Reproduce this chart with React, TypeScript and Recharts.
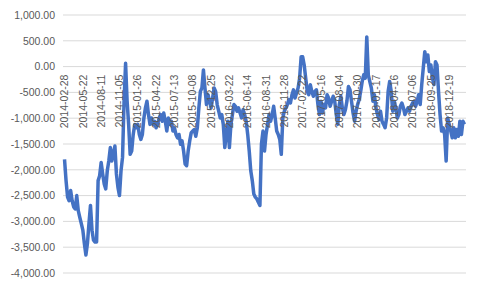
import React from 'react';
import { LineChart, Line, XAxis, YAxis, CartesianGrid } from 'recharts';

const values: number[] = [
  // 2014-02-28 ..
  -1800, -2210, -2530, -2600, -2400, -2600, -2720, -2760, -2500, -2790,
  -2920, -3045, -3170, -3430, -3650, -3430, -3045, -2690, -3170, -3365,
  -3400, -3400, -2210, -2115, -1860, -2080, -2275, -2370, -2020, -1830,
  -1570, -1830, -1670, -1540, -2080, -2340, -2500, -2020, -1760, -670,
  65, -670, -1120, -1700, -1635, -1315, -1120, -1185, -1120, -1315,
  -1410, -1315, -995, -800, -670, -930, -1120, -995, -1120, -1060,
  -1185, -1120, -995, -930, -1060, -900, -1060, -1250, -995, -1120,
  -1060, -1250, -1185, -1315, -1380, -1315, -1505, -1440, -1635, -1890,
  -1920, -1635, -1440, -1280, -1250, -1220, -1350, -1185, -800, -480,
  -415, -65, -415, -735, -545, -670, -800, -610, -415, -480,
  -735, -865, -995, -930, -1120, -1570, -1315, -1060, -1570, -1120,
  -930, -735, -770, -865, -800, -900, -995, -835, -930, -1060,
  -1315, -1635, -2020, -2210, -2470, -2530, -2565, -2630, -2690, -1500,
  -1250, -1635, -1315, -1120, -930, -1060, -930, -770, -995, -1250,
  -1315, -1410, -1700, -995, -865, -800, -735, -640, -705, -545,
  -450, -610, -510, -415, -225, 190, 190, 30, -225, -480,
  -545, -350, -480, -575, -480, -450, -735, -930, -670, -900,
  -735, -800, -545, -610, -770, -670, -575, -670, -930, -1120,
  -735, -575, -800, -930, -835, -670, -385, -450, -670, -900,
  -1060, -865, -735, -640, -480, -290, -160, -225, 575, -160,
  -290, -415, -670, -545, -800, -930, -1025, -865, -1060, -1120,
  -1185, -995, -480, -290, -480, -865, -670, -800, -995, -930,
  -770, -705, -800, -930, -865, -800, -865, -770, -705, -670,
  -770, -670, -545, -735, -350, -30, 290, 95, 225, -95,
  30, -225, -350, 95, 30, -480, -930, -1250, -1185, -1315,
  -1830, -995, -1120, -1250, -1380, -1185, -1380, -1220, -1350, -1060,
  -1315, -1060, -1120,
];

const tickIndex: number[] = [0, 12, 24, 36, 48, 60, 72, 84, 96, 108, 120, 132, 144, 156, 168, 180, 192, 204, 216, 228, 240, 252];
const tickLabels: string[] = [
  '2014-02-28', '2014-05-22', '2014-08-11', '2014-11-05', '2015-01-26', '2015-04-22',
  '2015-07-13', '2015-10-08', '2015-12-25', '2016-03-22', '2016-06-14', '2016-08-31',
  '2016-11-28', '2017-02-22', '2017-05-16', '2017-08-04', '2017-10-30', '2018-01-17',
  '2018-04-16', '2018-07-06', '2018-09-25', '2018-12-19',
];
const yTicks: number[] = [-4000, -3500, -3000, -2500, -2000, -1500, -1000, -500, 0, 500, 1000];

const data = values.map((v, i) => ({ i, v }));

const W = 480;
const H = 288;
const M = { top: 15, right: 14, bottom: 14, left: 0 };
const Y_MIN = -4000;
const Y_MAX = 1000;
const X_H = 1;
const plotH = H - M.top - M.bottom - X_H;
const zeroY = M.top + (plotH * (Y_MAX - 0)) / (Y_MAX - Y_MIN);

const FONT = '"Liberation Sans", Arial, sans-serif';
const TEXT = '#595959';

const fmt = (v: number) =>
  v.toLocaleString('en-US', { minimumFractionDigits: 2, maximumFractionDigits: 2 });

const renderXTick = (props: any) => {
  const { x, payload } = props;
  const idx = tickIndex.indexOf(Number(payload.value));
  const label = idx >= 0 ? tickLabels[idx] : String(payload.value);
  return (
    <g transform={`translate(${x},${zeroY + 8}) rotate(-90)`}>
      <text x={0} y={0} dy="0.35em" textAnchor="end" fill={TEXT} fontSize={10.5} fontFamily={FONT}>
        {label}
      </text>
    </g>
  );
};

export default function App() {
  return (
    <div style={{ position: 'absolute', left: 0, top: 0, width: W, height: H, background: '#fff' }}>
      <LineChart width={W} height={H} data={data} margin={M}>
        <CartesianGrid vertical={false} stroke="#D9D9D9" strokeWidth={1} />
        <XAxis
          dataKey="i"
          type="number"
          domain={[-1, 263]}
          ticks={tickIndex}
          interval={0}
          tick={renderXTick}
          axisLine={false}
          tickLine={false}
          height={X_H}
        />
        <YAxis
          type="number"
          domain={[Y_MIN, Y_MAX]}
          ticks={yTicks}
          interval={0}
          tickFormatter={fmt}
          axisLine={false}
          tickLine={false}
          width={63}
          tick={{ fill: TEXT, fontSize: 10.5, fontFamily: FONT }}
        />
        <Line
          type="linear"
          dataKey="v"
          stroke="#4472C4"
          strokeWidth={3.5}
          strokeLinejoin="round"
          dot={false}
          isAnimationActive={false}
        />
      </LineChart>
    </div>
  );
}
